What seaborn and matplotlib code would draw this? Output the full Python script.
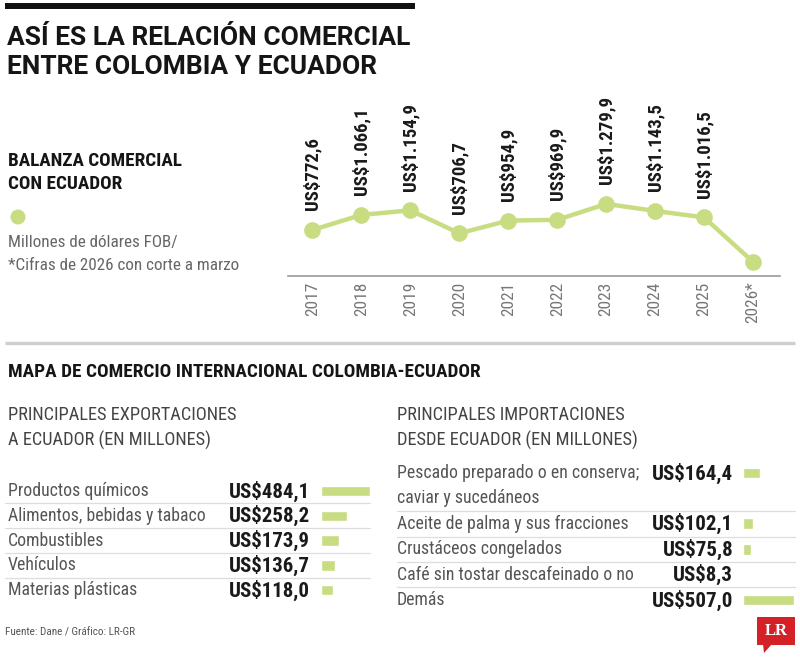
"""
Balanza comercial Colombia-Ecuador: línea de balanza anual + barras de exportaciones e importaciones
"""

import numpy as np
import pandas as pd
import matplotlib
matplotlib.use('Agg')
import matplotlib.pyplot as plt
from matplotlib import font_manager
from matplotlib.patches import Rectangle, Polygon, Circle
import seaborn as sns

# Datos
years = ['2017', '2018', '2019', '2020', '2021', '2022', '2023', '2024', '2025', '2026*']
balance = [772.6, 1066.1, 1154.9, 706.7, 954.9, 969.9, 1279.9, 1143.5, 1016.5, 150.0]
labelled = [True, True, True, True, True, True, True, True, True, False]

export_products = ['Productos químicos', 'Alimentos, bebidas y tabaco', 'Combustibles',
                   'Vehículos', 'Materias plásticas']
export_values = [484.1, 258.2, 173.9, 136.7, 118.0]

import_products = ['Pescado preparado o en conserva;\ncaviar y sucedáneos',
                   'Aceite de palma y sus fracciones', 'Crustáceos congelados',
                   'Café sin tostar descafeinado o no', 'Demás']
import_values = [164.4, 102.1, 75.8, 8.3, 507.0]

GREEN = '#c8dc82'
W, H = 800, 666

sns.set_theme(style='white')

# Fuentes: una condensada si existe
available = {f.name for f in font_manager.fontManager.ttflist}
def pick(*names):
    for n in names:
        if n in available:
            return n
    return 'DejaVu Sans'

NARROW = pick('Liberation Sans Narrow', 'DejaVu Sans Condensed', 'Roboto Condensed', 'Roboto')
TITLE = pick('Roboto', 'Open Sans', 'DejaVu Sans')
SERIF = pick('Liberation Serif', 'DejaVu Serif')
plt.rcParams['font.family'] = [NARROW, 'DejaVu Sans']


def usd(v):
    s = f"{v:,.1f}".replace(',', 'X').replace('.', ',').replace('X', '.')
    return 'US$' + s


def rect(l, t, w, h):
    # caja en pixeles (arriba-izquierda) -> fracciones de figura
    return [l / W, 1 - (t + h) / H, w / W, h / H]


fig = plt.figure(figsize=(W / 100, H / 100), dpi=100)
fig.patch.set_facecolor('white')

# capa de fondo en pixeles para textos y adornos
bg = fig.add_axes([0, 0, 1, 1], zorder=0)
bg.set_xlim(0, W)
bg.set_ylim(H, 0)
bg.axis('off')

bg.add_patch(Rectangle((5, 3), 410, 6, color='#111111', lw=0))
bg.text(7, 38, 'ASÍ ES LA RELACIÓN COMERCIAL', family=TITLE, weight='bold',
        fontsize=19, color='#151515', va='center')
bg.text(7, 67, 'ENTRE COLOMBIA Y ECUADOR', family=TITLE, weight='bold',
        fontsize=19, color='#151515', va='center')

bg.text(8, 161, 'BALANZA COMERCIAL', weight='bold', fontsize=13.8, color='#151515', va='center')
bg.text(8, 184, 'CON ECUADOR', weight='bold', fontsize=13.8, color='#151515', va='center')
bg.add_patch(Circle((18, 217), 7.5, color=GREEN, lw=0))
bg.text(8, 243, 'Millones de dólares FOB/', fontsize=12.3, color='#666666', va='center')
bg.text(8, 266, '*Cifras de 2026 con corte a marzo', fontsize=12.3, color='#666666', va='center')

bg.plot([5, 795], [343, 343], color='#cfcfcf', lw=2.4, solid_capstyle='butt')
bg.text(8, 372, 'MAPA DE COMERCIO INTERNACIONAL COLOMBIA-ECUADOR', weight='bold',
        fontsize=13.9, color='#151515', va='center')

bg.text(8, 415, 'PRINCIPALES EXPORTACIONES', fontsize=13.2, color='#444444', va='center')
bg.text(8, 440, 'A ECUADOR (EN MILLONES)', fontsize=13.2, color='#444444', va='center')
bg.text(397, 415, 'PRINCIPALES IMPORTACIONES', fontsize=13.2, color='#444444', va='center')
bg.text(397, 440, 'DESDE ECUADOR (EN MILLONES)', fontsize=13.2, color='#444444', va='center')

# filas de exportaciones
exp_y0, exp_step = 491, 24.8
for i, (name, val) in enumerate(zip(export_products, export_values)):
    y = exp_y0 + i * exp_step
    bg.text(8, y, name, fontsize=12.8, color='#555555', va='center')
    bg.text(310, y, usd(val), fontsize=15, weight='bold', color='#1a1a1a', va='center', ha='right')
    if i < len(export_products) - 1:
        bg.plot([5, 370], [y + exp_step / 2] * 2, color='#dddddd', lw=0.9)

# filas de importaciones (los nombres largos ocupan dos renglones)
n_lines = [p.count('\n') + 1 for p in import_products]
slots = list(np.cumsum([0] + n_lines[:-1]))
imp_y0, imp_step = 473, 25.4
for k, (name, val) in enumerate(zip(import_products, import_values)):
    s = slots[k]
    for j, line in enumerate(name.split('\n')):
        bg.text(397, imp_y0 + (s + j) * imp_step, line, fontsize=12.8, color='#555555', va='center')
    bg.text(733, imp_y0 + s * imp_step, usd(val), fontsize=15, weight='bold',
            color='#1a1a1a', va='center', ha='right')
    if k < len(import_products) - 1:
        yl = imp_y0 + (s + n_lines[k] - 0.5) * imp_step
        bg.plot([397, 795], [yl, yl], color='#dddddd', lw=0.9)

bg.text(5, 632, 'Fuente: Dane / Gráfico: LR-GR', fontsize=8, color='#555555', va='center')

# logo LR
bg.add_patch(Rectangle((757, 617), 38, 28, color='#d42027', lw=0))
bg.add_patch(Polygon([(763, 644), (772, 644), (764, 653)], closed=True, color='#d42027', lw=0))
bg.text(776, 631, 'LR', family=SERIF, weight='bold', fontsize=12, color='white',
        ha='center', va='center')

# --- línea de balanza comercial ---
ax = fig.add_axes(rect(288, 90, 492, 186), zorder=2)
ax.patch.set_alpha(0)
df_bal = pd.DataFrame({'year': years, 'value': balance})
sns.lineplot(data=df_bal, x='year', y='value', ax=ax, color=GREEN, lw=3.2,
             marker='o', markersize=12, markeredgewidth=0, sort=False)
ax.set_xlim(-0.5, len(years) - 0.45)
ax.set_ylim(-125, 3500)
for side in ['top', 'left', 'right']:
    ax.spines[side].set_visible(False)
ax.spines['bottom'].set_color('#9a9a9a')
ax.spines['bottom'].set_linewidth(1.2)
ax.set_yticks([])
ax.set_xticks(range(len(years)))
ax.set_xticklabels(years, rotation=90, fontsize=12.5, color='#777777')
ax.set_xticks(np.arange(0.5, len(years) - 1, 1), minor=True)
ax.tick_params(axis='x', which='major', length=0, pad=4)
ax.tick_params(axis='x', which='minor', length=6, direction='inout', color='#9a9a9a', width=0.8)
ax.set_xlabel('')
ax.set_ylabel('')
for i, (v, show) in enumerate(zip(balance, labelled)):
    if show:
        ax.annotate(usd(v), (i, v), xytext=(0, 14), textcoords='offset points',
                    rotation=90, ha='center', va='bottom', fontsize=13.5,
                    weight='bold', color='#1a1a1a')

# --- barras de exportaciones ---
px_per_unit = 0.101
ax_e = fig.add_axes(rect(321, exp_y0 - exp_step / 2, 50, exp_step * len(export_values)), zorder=2)
df_exp = pd.DataFrame({'product': export_products, 'value': export_values})
sns.barplot(data=df_exp, x='value', y='product', orient='h', color=GREEN,
            saturation=1, width=0.42, ax=ax_e)
ax_e.set_xlim(0, 50 / px_per_unit)
ax_e.set_ylim(len(export_values) - 0.5, -0.5)
ax_e.axis('off')

# --- barras de importaciones ---
n_slots = sum(n_lines)
ax_i = fig.add_axes(rect(743, imp_y0 - imp_step / 2, 53, imp_step * n_slots), zorder=2)
sns.barplot(x=import_values, y=slots, orient='h', native_scale=True, color=GREEN,
            saturation=1, width=0.42, ax=ax_i)
ax_i.set_xlim(0, 53 / px_per_unit)
ax_i.set_ylim(n_slots - 0.5, -0.5)
ax_i.axis('off')

fig.savefig('out.png', dpi=100, facecolor='white')
